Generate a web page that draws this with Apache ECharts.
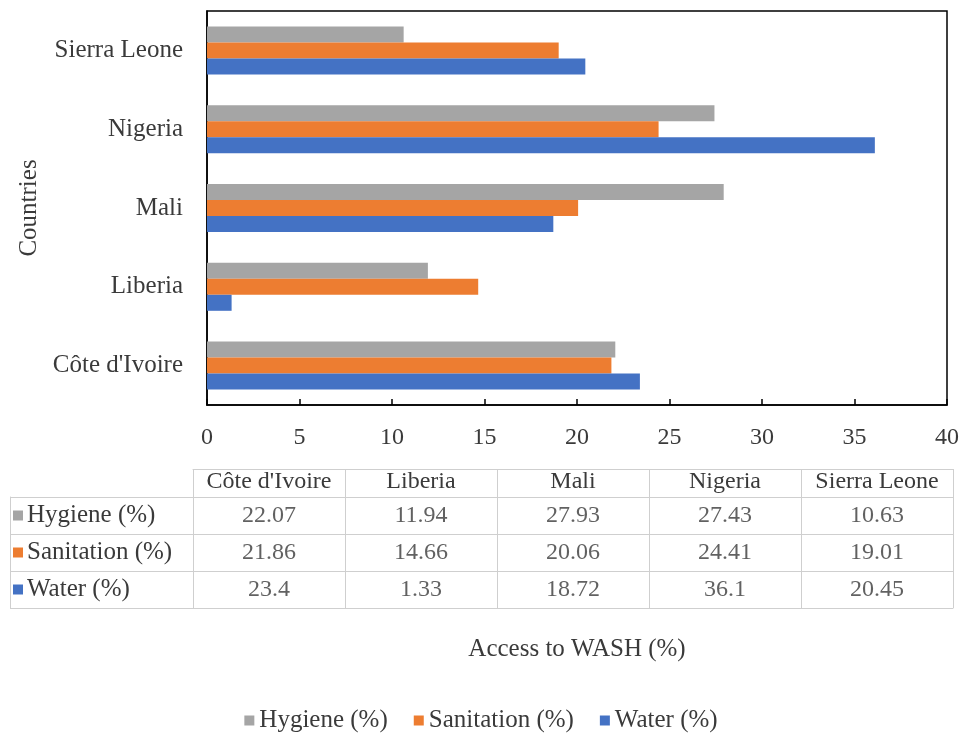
<!DOCTYPE html>
<html>
<head>
<meta charset="utf-8">
<script src="https://cdn.jsdelivr.net/npm/echarts@6/dist/echarts.min.js"></script>
<style>html,body{margin:0;padding:0;background:#fff}#c{width:962px;height:733px}</style>
</head>
<body>
<div id="c"></div>
<script>
const countries = ["Côte d'Ivoire", "Liberia", "Mali", "Nigeria", "Sierra Leone"];
const seriesNames = ["Hygiene (%)", "Sanitation (%)", "Water (%)"];
const hygiene = [22.07, 11.94, 27.93, 27.43, 10.63];
const sanitation = [21.86, 14.66, 20.06, 24.41, 19.01];
const water = [23.4, 1.33, 18.72, 36.1, 20.45];
const xTicks = [0, 5, 10, 15, 20, 25, 30, 35, 40];
const colors = ["#A5A5A5", "#ED7D31", "#4472C4"];

const FONT = "Liberation Serif";
const TXT = "#3a3a3a";
const LINE = "#cfcfcf";
const allValues = [hygiene, sanitation, water];

const tableData = [];
allValues.forEach((arr, r) => arr.forEach((v, c) => tableData.push([c, seriesNames[r], v])));

const rich = {t: {fontFamily: FONT, fontSize: 25, color: TXT, padding: [0, 0, 0, 4]}};
colors.forEach((col, i) => { rich['s' + i] = {width: 10, height: 10, backgroundColor: col}; });

const chart = echarts.init(document.getElementById('c'));
chart.setOption({
  animation: false,
  textStyle: {fontFamily: FONT, color: TXT},
  legend: {
    data: seriesNames, top: 703, left: 'center', icon: 'rect', itemWidth: 10, itemHeight: 10, itemGap: 26, itemStyle: {borderWidth: 0},
    textStyle: {fontFamily: FONT, fontSize: 25, color: TXT}
  },
  grid: [
    {left: 207, right: 11, top: 11, bottom: 328, show: true, borderColor: '#000', borderWidth: 1.5},
    {left: 193, right: 9, top: 497, height: 111, show: false}
  ],
  xAxis: [
    {
      type: 'value', gridIndex: 0, min: xTicks[0], max: xTicks[xTicks.length - 1], interval: 5,
      name: 'Access to WASH (%)', nameLocation: 'middle', nameGap: 232,
      nameTextStyle: {fontFamily: FONT, fontSize: 25, color: TXT},
      axisLine: {show: true, lineStyle: {color: '#000', width: 1.5}},
      axisTick: {show: true, inside: true, length: 6, lineStyle: {color: '#000', width: 1.5}},
      axisLabel: {margin: 21, fontFamily: FONT, fontSize: 24, color: TXT},
      splitLine: {show: false}
    },
    {
      type: 'category', gridIndex: 1, position: 'top', data: countries,
      axisLine: {show: true, lineStyle: {color: LINE}},
      axisTick: {show: true, interval: 0, length: 28, lineStyle: {color: LINE}},
      axisLabel: {interval: 0, hideOverlap: false, margin: 3, fontFamily: FONT, fontSize: 24, color: TXT},
      splitLine: {show: true, interval: 0, lineStyle: {color: LINE}}
    },
    {
      type: 'category', gridIndex: 1, position: 'bottom', data: countries,
      axisLine: {show: true, lineStyle: {color: LINE}}, axisTick: {show: false}, axisLabel: {show: false}
    },
    {
      type: 'category', gridIndex: 1, position: 'top', offset: 28, data: countries,
      axisLine: {show: true, lineStyle: {color: LINE}}, axisTick: {show: false}, axisLabel: {show: false}
    }
  ],
  yAxis: [
    {
      type: 'category', gridIndex: 0, data: countries,
      name: 'Countries', nameLocation: 'middle', nameGap: 163, nameRotate: 90,
      nameTextStyle: {fontFamily: FONT, fontSize: 25, color: TXT},
      axisLine: {show: true, lineStyle: {color: '#000', width: 1.5}},
      axisTick: {show: false},
      axisLabel: {interval: 0, margin: 24, fontFamily: FONT, fontSize: 25, color: TXT}
    },
    {
      type: 'category', gridIndex: 1, data: seriesNames, inverse: true,
      axisLine: {show: true, lineStyle: {color: LINE}},
      axisTick: {show: true, interval: 0, length: 183, lineStyle: {color: LINE}},
      axisLabel: {
        interval: 0, margin: 180, align: 'left',
        formatter: (v) => '{s' + seriesNames.indexOf(v) + '|}{t|' + v + '}',
        rich: rich
      },
      splitLine: {show: true, interval: 0, lineStyle: {color: LINE}}
    },
    {
      type: 'category', gridIndex: 1, data: seriesNames, inverse: true, offset: 183, position: 'left',
      axisLine: {show: true, lineStyle: {color: LINE}}, axisTick: {show: false}, axisLabel: {show: false}
    }
  ],
  series: [
    {name: seriesNames[0], type: 'bar', xAxisIndex: 0, yAxisIndex: 0, data: hygiene, barWidth: 16, barGap: '0%', itemStyle: {color: colors[0]}},
    {name: seriesNames[1], type: 'bar', xAxisIndex: 0, yAxisIndex: 0, data: sanitation, barWidth: 16, barGap: '0%', itemStyle: {color: colors[1]}},
    {name: seriesNames[2], type: 'bar', xAxisIndex: 0, yAxisIndex: 0, data: water, barWidth: 16, barGap: '0%', itemStyle: {color: colors[2]}},
    {
      name: 'table', type: 'scatter', xAxisIndex: 1, yAxisIndex: 1, data: tableData,
      symbolSize: 1, itemStyle: {color: 'rgba(0,0,0,0)'}, silent: true,
      label: {show: true, position: 'inside', formatter: (p) => String(p.value[2]), fontFamily: FONT, fontSize: 24, color: TXT}
    }
  ]
});
</script>
</body>
</html>
